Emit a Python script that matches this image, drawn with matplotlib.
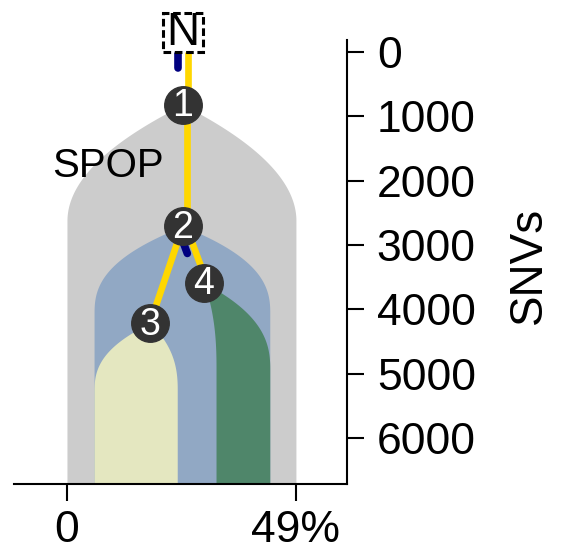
import numpy as np
import matplotlib
matplotlib.use("Agg")
import matplotlib.pyplot as plt
from matplotlib.patches import Rectangle
from matplotlib.transforms import ScaledTranslation

plt.rcParams['font.family'] = ['Liberation Sans', 'DejaVu Sans']

# ---------------- data ----------------
node_names = ['N', '1', '2', '3', '4']
node_x = [24.8, 24.8, 24.8, 17.8, 29.3]          # cellular position (%)
node_snvs = [-300, 820, 2710, 4215, 3590]        # SNVs

clone_ids = ['1', '2', '3', '4']
clone_left = [0.0, 5.8, 5.8, 31.9]               # % at full expansion
clone_right = [49.0, 43.4, 23.6, 43.4]
clone_spread = [1800, 1350, 1050, 1350]          # SNVs needed to reach full width

edge_parent = ['N', '1', '2', '2']
edge_child = ['1', '2', '3', '4']
navy_fraction = [0.49, 0.0, 0.0, 0.48]           # fraction of branch with 2nd signature

driver_label = 'SPOP'
driver_x = 8.7
driver_snvs = 1770

xtick_values = [0, 49]
xtick_labels = ['0', '49%']
ytick_values = [0, 1000, 2000, 3000, 4000, 5000, 6000]
ylabel = 'SNVs'

# ---------------- style ----------------
clone_colors = ['#CCCCCC', '#91A8C4', '#E4E7C0', '#4F866A']
clone_shape_power = [2.0, 2.5, 2.5, 2.5]
yellow = '#FFD700'
navy = '#000080'
node_color = '#333333'
yellow_offset = [1.0, 0.9, 0.0, 0.7]
navy_offset = [-0.95, 0.0, 0.0, -1.2]

fig = plt.figure(figsize=(5.7, 5.51), dpi=100)
ax = fig.add_axes([0.0254, 0.1216, 0.5833, 0.8058])
xmin, xmax = -11.23, 59.92
ymax, ymin = 6718, -187
ax.set_xlim(xmin, xmax)
ax.set_ylim(ymax, ymin)

pos = {n: (x, y) for n, x, y in zip(node_names, node_x, node_snvs)}

# clone fills
for cid, L, R, spread, pw, col in zip(clone_ids, clone_left, clone_right,
                                       clone_spread, clone_shape_power,
                                       clone_colors):
    x0, y0 = pos[cid]
    yy = np.linspace(y0, ymax + 200, 800)
    s = np.clip((yy - y0) / spread, 0, 1)
    f = 1 - (1 - s) ** pw
    left = x0 + (L - x0) * f
    right = x0 + (R - x0) * f
    ax.fill_betweenx(yy, left, right, color=col, lw=0, zorder=1)

# tree branches
for p, c, frac, yo, no in zip(edge_parent, edge_child, navy_fraction,
                              yellow_offset, navy_offset):
    (px, py), (cx, cy) = pos[p], pos[c]
    ax.plot([px + yo, cx + yo], [py, cy], color=yellow, lw=4.8,
            solid_capstyle='butt', zorder=3)
    if frac > 0:
        ex = px + (cx - px) * frac
        ey = py + (cy - py) * frac
        ax.plot([px + no, ex + no], [py, ey], color=navy, lw=5.5,
                solid_capstyle='round', zorder=3)

# nodes
for n in node_names[1:]:
    x, y = pos[n]
    ax.plot([x], [y], 'o', ms=27, color=node_color, mec=node_color, zorder=5)
    ax.text(x, y + 25, n, color='white', fontsize=27, ha='center', va='center',
            zorder=6)

# root node N in dashed box
nx, ny = pos['N']
box = Rectangle((-0.20, -0.195), 0.40, 0.39,
                transform=fig.dpi_scale_trans + ScaledTranslation(nx, ny, ax.transData),
                fc='white', ec='black', lw=2.2, ls=(0, (2.5, 1.2)),
                clip_on=False, zorder=7)
ax.add_patch(box)
ax.text(nx, ny, 'N', fontsize=33, ha='center', va='center', zorder=8,
        clip_on=False)

# driver label
ax.text(driver_x, driver_snvs, driver_label, fontsize=29, ha='center',
        va='center', zorder=6)

# axes styling
for side in ['left', 'top']:
    ax.spines[side].set_visible(False)
for side in ['right', 'bottom']:
    ax.spines[side].set_linewidth(1.5)
ax.yaxis.tick_right()
ax.set_yticks(ytick_values)
ax.set_yticklabels([str(v) for v in ytick_values])
ax.set_xticks(xtick_values)
ax.set_xticklabels(xtick_labels)
ax.tick_params(axis='y', length=12.5, width=1.5, labelsize=32, pad=9)
ax.tick_params(axis='x', length=12.5, width=1.5, labelsize=32, pad=6)
ax.text(1.547, 0.493, ylabel, transform=ax.transAxes, rotation=90,
        fontsize=33, ha='center', va='center')

fig.savefig('out.png', dpi=100)
